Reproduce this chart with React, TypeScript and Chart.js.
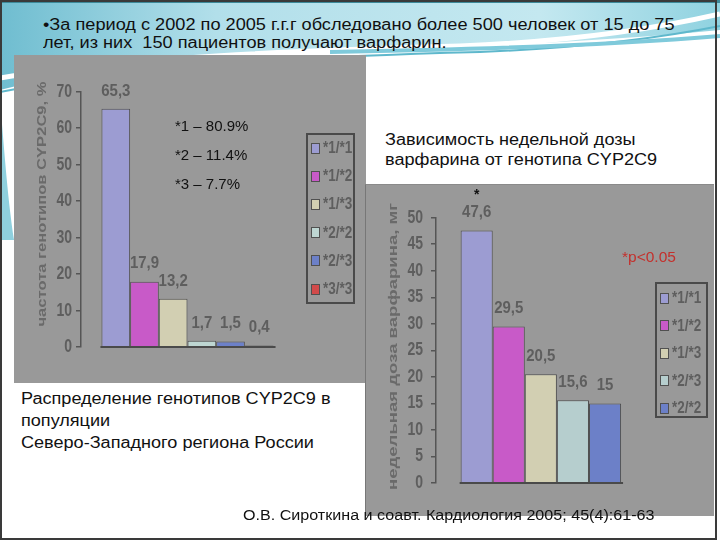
import React, { useEffect, useRef } from "react";
import { Chart, registerables } from "chart.js";

Chart.register(...registerables);

// ---------- data ----------
const titleLines = [
  "•За период с 2002 по 2005 г.г.г обследовано более 500 человек от 15 до 75",
  "лет, из них  150 пациентов получают варфарин.",
];

const freqGenotypes = ["*1/*1", "*1/*2", "*1/*3", "*2/*2", "*2/*3", "*3/*3"];
const freqValues = [65.3, 17.9, 13.2, 1.7, 1.5, 0.4];
const freqColors = ["#9c9cd2", "#c85ac8", "#d2cfb2", "#bed6d2", "#6c80c8", "#d24a4a"];
const freqYMax = 70;
const freqYStep = 10;
const freqAxisTitle = "частота генотипов CYP2C9, %";
const alleleLines = ["*1 – 80.9%", "*2 – 11.4%", "*3 – 7.7%"];
const freqCaption = ["Распределение генотипов CYP2C9 в", "популяции", "Северо-Западного региона России"];

const doseGenotypes = ["*1/*1", "*1/*2", "*1/*3", "*2/*3", "*2/*2"];
const doseValues = [47.6, 29.5, 20.5, 15.6, 15];
const doseColors = ["#9c9cd2", "#c85ac8", "#d2cfb2", "#b6cece", "#6c80c8"];
const doseYMax = 50;
const doseYStep = 5;
const doseAxisTitle = "недельная доза варфарина, мг";
const doseCaption = ["Зависимость недельной дозы", "варфарина от генотипа CYP2C9"];
const doseSignificance = "*p<0.05";
const citation = "О.В. Сироткина и соавт. Кардиология 2005; 45(4):61-63";

// ---------- styles ----------
const SANS = "'Liberation Sans', Arial, sans-serif";
const PANEL_GRAY = "#999999";
const AXIS_GRAY = "#555555";
const TEXT_GRAY = "#5e5e5e";

const barExtras = {
  id: "barExtras",
  afterDatasetsDraw(chart: any, _args: any, opts: any) {
    const ctx = chart.ctx;
    ctx.save();
    let minX = Infinity;
    let maxX = -Infinity;
    ctx.textAlign = "center";
    ctx.textBaseline = "middle";
    chart.data.datasets.forEach((ds: any, i: number) => {
      const meta = chart.getDatasetMeta(i);
      meta.data.forEach((bar: any, j: number) => {
        const v = ds.data[j];
        const { x, y, width } = bar.getProps(["x", "y", "width"], true);
        minX = Math.min(minX, x - width / 2);
        maxX = Math.max(maxX, x + width / 2);
        ctx.save();
        ctx.translate(x, y - 18);
        ctx.scale(1, 1.15);
        ctx.fillStyle = TEXT_GRAY;
        ctx.font = `bold 15px ${SANS}`;
        ctx.fillText(String(v).replace(".", ","), 0, 0);
        ctx.restore();
        if (opts && opts.star && i === 0) {
          ctx.fillStyle = "#111";
          ctx.font = `bold 14px ${SANS}`;
          ctx.fillText("*", x, y - 35);
        }
      });
    });
    const yScale = chart.scales.y;
    const y0 = yScale.getPixelForValue(0);
    ctx.strokeStyle = "#4a4a4a";
    ctx.lineWidth = 2;
    ctx.beginPath();
    ctx.moveTo(minX - 1, y0);
    ctx.lineTo(maxX + 2, y0);
    ctx.stroke();

    // y tick labels (tall, bold)
    const left = chart.chartArea.left;
    yScale.ticks.forEach((t: any) => {
      const ty = yScale.getPixelForValue(t.value);
      ctx.save();
      ctx.translate(left - 5 - opts.tickPad, ty);
      ctx.scale(1, 1.3);
      ctx.textAlign = "right";
      ctx.textBaseline = "middle";
      ctx.fillStyle = TEXT_GRAY;
      ctx.font = `bold 14px ${SANS}`;
      ctx.fillText(String(t.value), 0, 0);
      ctx.restore();
    });

    // rotated axis title, stretched along its length
    const tt = opts.title;
    if (tt) {
      ctx.save();
      ctx.translate(tt.cx, tt.cy);
      ctx.rotate(-Math.PI / 2);
      ctx.font = `bold 13px ${SANS}`;
      const w = ctx.measureText(tt.text).width;
      ctx.scale(tt.length / w, 1);
      ctx.textAlign = "center";
      ctx.textBaseline = "middle";
      ctx.fillStyle = "#6a6a6a";
      ctx.fillText(tt.text, 0, 0);
      ctx.restore();
    }
    ctx.restore();
  },
};

type BarProps = {
  labels: string[];
  values: number[];
  colors: string[];
  yMax: number;
  step: number;
  title: { text: string; cx: number; cy: number; length: number };
  left: number;
  top: number;
  width: number;
  height: number;
  padding: { top: number; bottom: number; left: number; right: number };
  yWidth: number;
  tickPad: number;
  catPct: number;
  star?: boolean;
};

function BarChart(p: BarProps) {
  const ref = useRef<HTMLCanvasElement | null>(null);
  useEffect(() => {
    if (!ref.current) return;
    const chart = new Chart(ref.current, {
      type: "bar",
      data: {
        labels: [""],
        datasets: p.labels.map((l, i) => ({
          label: l,
          data: [p.values[i]],
          backgroundColor: p.colors[i],
          borderColor: "#505050",
          borderWidth: 1,
          categoryPercentage: p.catPct,
          barPercentage: 1,
        })),
      },
      options: {
        responsive: false,
        animation: false,
        devicePixelRatio: 1,
        layout: { padding: p.padding },
        plugins: {
          legend: { display: false },
          tooltip: { enabled: false },
          barExtras: { star: !!p.star, tickPad: p.tickPad, title: p.title },
        } as any,
        scales: {
          x: { display: false },
          y: {
            min: 0,
            max: p.yMax,
            ticks: { stepSize: p.step, display: false },
            grid: { drawOnChartArea: false, tickLength: 5, color: AXIS_GRAY, lineWidth: 1.5 },
            border: { color: AXIS_GRAY, width: 1.5 },
            afterFit(scale: any) {
              scale.width = p.yWidth;
            },
          },
        },
      } as any,
      plugins: [barExtras],
    });
    return () => chart.destroy();
  }, []);
  return (
    <canvas
      ref={ref}
      width={p.width}
      height={p.height}
      style={{ position: "absolute", left: p.left, top: p.top, width: p.width, height: p.height }}
    />
  );
}

function Legend({ labels, colors, left, top, width, height, first, spacing }: any) {
  return (
    <div
      style={{
        position: "absolute",
        left,
        top,
        width,
        height,
        border: "2px solid #4a4a4a",
        boxSizing: "border-box",
      }}
    >
      {labels.map((l: string, i: number) => (
        <div
          key={l}
          style={{
            position: "absolute",
            left: 3,
            top: first + i * spacing - 2 - 9,
            height: 18,
            display: "flex",
            alignItems: "center",
            whiteSpace: "nowrap",
          }}
        >
          <span
            style={{
              display: "inline-block",
              width: 7,
              height: 9,
              background: colors[i],
              border: "1px solid #505050",
              marginRight: 3,
            }}
          />
          <span
            style={{
              display: "inline-block",
              font: `bold 13.5px ${SANS}`,
              lineHeight: "18px",
              color: TEXT_GRAY,
              transform: "scaleY(1.2)",
            }}
          >
            {l}
          </span>
        </div>
      ))}
    </div>
  );
}

const textBlock = (
  lines: string[],
  left: number,
  top: number,
  lh: number,
  size: number,
  sx: number,
  extra: any = {}
) => (
  <div
    style={{
      position: "absolute",
      left,
      top,
      font: `${size}px ${SANS}`,
      lineHeight: `${lh}px`,
      color: "#111",
      whiteSpace: "pre",
      transform: `scaleX(${sx})`,
      transformOrigin: "0 0",
      ...extra,
    }}
  >
    {lines.map((t, i) => (
      <div key={i}>{t}</div>
    ))}
  </div>
);

export default function App() {
  return (
    <div
      style={{
        position: "absolute",
        left: 0,
        top: 0,
        width: 720,
        height: 540,
        background: "#ffffff",
        overflow: "hidden",
      }}
    >
      <svg width={720} height={260} style={{ position: "absolute", left: 0, top: 0 }}>
        <defs>
          <linearGradient id="wg" x1="0" y1="0" x2="1" y2="0">
            <stop offset="0" stopColor="#6fbdd0" />
            <stop offset="0.3" stopColor="#b2dfea" />
            <stop offset="0.75" stopColor="#c4e8f0" />
            <stop offset="1" stopColor="#8fd2e0" />
          </linearGradient>
        </defs>
        <path d="M0,0 H720 V30 C600,42 450,48 300,52 C180,56 80,70 0,90 Z" fill="url(#wg)" />
        <path d="M0,78 C120,58 300,50 460,46 C560,42 650,30 720,14" stroke="#ffffff" strokeWidth="5" fill="none" />
        <path d="M0,92 C140,64 320,56 480,52 C580,48 660,38 720,26" stroke="#5fb8cc" strokeWidth="2" fill="none" />
        <path d="M330,52 C450,50 600,46 720,36" stroke="#7fcadb" strokeWidth="4" fill="none" />
        <path d="M0,100 C5,160 8,200 14,240 L0,240 Z" fill="#8fd0de" />
        <rect x="0" y="0" width="720" height="3" fill="#3d8a9a" />
      </svg>

      {textBlock(titleLines, 43, 16, 18, 16, 1.135)}

      {/* left panel */}
      <div style={{ position: "absolute", left: 14, top: 55, width: 352, height: 328, background: PANEL_GRAY }} />
      <BarChart
        labels={freqGenotypes}
        values={freqValues}
        colors={freqColors}
        yMax={freqYMax}
        step={freqYStep}
        title={{ text: freqAxisTitle, cx: 28, cy: 149, length: 245 }}
        left={14}
        top={55}
        width={352}
        height={328}
        padding={{ top: 36.7, bottom: 36, left: 0, right: 72 }}
        yWidth={67}
        tickPad={4}
        catPct={0.808}
      />
      <Legend labels={freqGenotypes} colors={freqColors} left={306} top={133} width={49} height={171} first={15} spacing={28.2} />
      {textBlock(alleleLines, 175, 110.5, 29, 15, 1.0)}
      {textBlock(freqCaption, 21, 388, 22, 16, 1.13)}

      {textBlock(doseCaption, 385, 130, 20, 16, 1.13)}

      {/* right panel */}
      <div
        style={{
          position: "absolute",
          left: 365,
          top: 184,
          width: 349,
          height: 332,
          background: PANEL_GRAY,
          borderLeft: "1px solid #777",
          borderTop: "1px solid #8a8a8a",
          boxSizing: "border-box",
        }}
      />
      <BarChart
        labels={doseGenotypes}
        values={doseValues}
        colors={doseColors}
        yMax={doseYMax}
        step={doseYStep}
        title={{ text: doseAxisTitle, cx: 27, cy: 161.5, length: 287 }}
        left={366}
        top={185}
        width={347}
        height={331}
        padding={{ top: 32.7, bottom: 33, left: 0, right: 67.3 }}
        yWidth={70}
        tickPad={8}
        catPct={0.765}
        star
      />
      <Legend labels={doseGenotypes} colors={doseColors} left={655} top={282} width={53} height={136} first={16} spacing={27.5} />
      {textBlock([doseSignificance], 622, 248, 18, 15.5, 1.0, { color: "#c4302c" })}

      {textBlock([citation], 243, 505, 20, 14, 1.15)}

      <div
        style={{
          position: "absolute",
          left: 0,
          top: 0,
          width: 717,
          height: 540,
          border: "2px solid #3a3a3a",
          boxSizing: "border-box",
          pointerEvents: "none",
        }}
      />
    </div>
  );
}
